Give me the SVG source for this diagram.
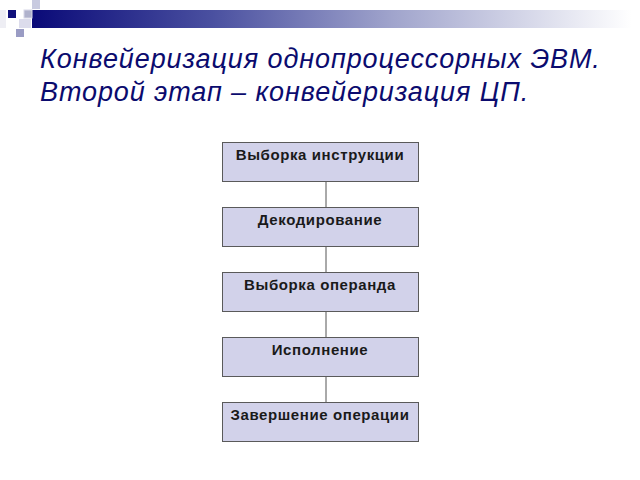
<svg xmlns="http://www.w3.org/2000/svg" width="640" height="480" viewBox="0 0 640 480">
<defs>
<linearGradient id="bar" x1="0" y1="0" x2="1" y2="0">
<stop offset="0" stop-color="#0a0a78"/>
<stop offset="0.3" stop-color="#4a50a0"/>
<stop offset="0.6" stop-color="#a0a4cc"/>
<stop offset="1" stop-color="#ffffff"/>
</linearGradient>
<style>
.box{fill:#d2d2ea;stroke:#5a5a5a;stroke-width:1}
.lbl{font-family:"Liberation Sans",Arial,sans-serif;font-size:15px;letter-spacing:0.6px;font-weight:bold;fill:#1a1a1a;text-anchor:middle}
.title{font-family:"Liberation Sans",Arial,sans-serif;font-size:27px;letter-spacing:0.9px;font-style:italic;fill:#0b0b6e}
.conn{stroke:#555;stroke-width:1;fill:none}
</style>
</defs>
<rect width="640" height="480" fill="#fff"/>
<g id="decor">
<rect x="32" y="10" width="600" height="18" fill="url(#bar)"/>
<rect x="32" y="0" width="8" height="9" fill="#c8cae0"/>
<rect x="8" y="10" width="8" height="8" fill="#10107a"/>
<rect x="24" y="10" width="8" height="8" fill="#b0b2cc" stroke="#d8d8e8" stroke-width="1"/>
<rect x="19" y="19" width="12" height="9" fill="#dcdcec"/>
<rect x="16" y="29" width="8" height="8" fill="#9a9cc4"/>
<rect x="0" y="10" width="6" height="18" fill="#eeeef4"/>
</g>
<text class="title" x="40" y="68">Конвейеризация однопроцессорных ЭВМ.</text>
<text class="title" x="40" y="101">Второй этап – конвейеризация ЦП.</text>
<g id="connectors">
<line class="conn" x1="326" y1="181" x2="326" y2="207"/>
<line class="conn" x1="326" y1="246" x2="326" y2="272"/>
<line class="conn" x1="326" y1="311" x2="326" y2="337"/>
<line class="conn" x1="326" y1="376" x2="326" y2="402"/>
</g>
<g id="n1"><rect class="box" x="222.5" y="142.5" width="196" height="39"/><text class="lbl" x="320" y="160">Выборка инструкции</text></g>
<g id="n2"><rect class="box" x="222.5" y="207.5" width="196" height="39"/><text class="lbl" x="320" y="225">Декодирование</text></g>
<g id="n3"><rect class="box" x="222.5" y="272.5" width="196" height="39"/><text class="lbl" x="320" y="290">Выборка операнда</text></g>
<g id="n4"><rect class="box" x="222.5" y="337.5" width="196" height="39"/><text class="lbl" x="320" y="355">Исполнение</text></g>
<g id="n5"><rect class="box" x="222.5" y="402.5" width="196" height="39"/><text class="lbl" x="320" y="420">Завершение операции</text></g>
</svg>
